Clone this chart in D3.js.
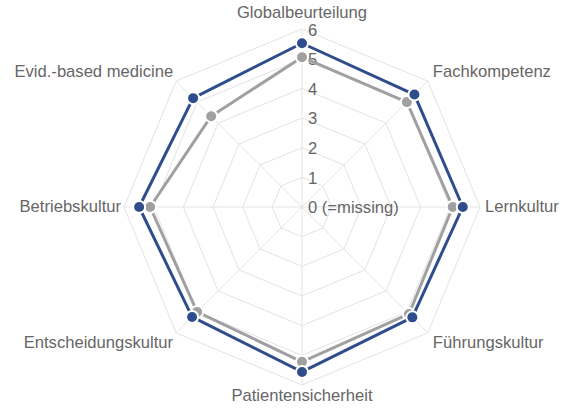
<!DOCTYPE html>
<html><head><meta charset="utf-8">
<script src="https://cdn.jsdelivr.net/npm/d3@7"></script>
<style>body{margin:0;background:#fff}svg{display:block}</style>
</head><body>
<svg id="c" width="562" height="408"></svg>
<script>
const categories = ["Globalbeurteilung","Fachkompetenz","Lernkultur","Führungskultur","Patientensicherheit","Entscheidungskultur","Betriebskultur","Evid.-based medicine"];
const seriesBlue = [5.52, 5.36, 5.42, 5.26, 5.56, 5.24, 5.49, 5.19];
const seriesGray = [5.05, 5.0, 5.08, 5.1, 5.22, 5.0, 5.12, 4.33];
const levels = [0,1,2,3,4,5,6];
const levelLabels = ["0 (=missing)","1","2","3","4","5","6"];

const svg = d3.select("#c");
const cx = 302, cy = 207;
const r = d3.scaleLinear().domain([0,6]).range([0,178]);
const ang = d3.scaleLinear().domain([0, categories.length]).range([0, 2*Math.PI]);
const pt = (i, v) => [cx + r(v)*Math.sin(ang(i)), cy - r(v)*Math.cos(ang(i))];
const g = svg.append("g");
const font = "'Liberation Sans', Arial, sans-serif";
const fs = 16.6;

// grid rings
levels.filter(l => l > 0).forEach(l => {
  g.append("path")
    .attr("d", d3.line()(categories.map((c,i) => pt(i,l))) + "Z")
    .attr("fill","none").attr("stroke","#e3e3e3").attr("stroke-width",1);
});
// spokes
categories.forEach((c,i) => {
  const [x,y] = pt(i,6);
  g.append("line").attr("x1",cx).attr("y1",cy).attr("x2",x).attr("y2",y)
    .attr("stroke","#e3e3e3").attr("stroke-width",1);
});

// level labels
levels.forEach((l,k) => {
  g.append("text").attr("x", cx + 6).attr("y", cy - r(l) + (l === 6 ? 3 : 2))
    .attr("dominant-baseline","middle")
    .attr("font-family",font).attr("font-size",fs).attr("fill","#666")
    .text(levelLabels[k]);
});

// category labels
categories.forEach((c,i) => {
  const a = ang(i);
  const [x,y] = pt(i,6);
  const s = Math.sin(a), co = Math.cos(a);
  let anchor = Math.abs(s) < 0.01 ? "middle" : (s > 0 ? "start" : "end");
  let dx = Math.abs(s) < 0.01 ? 0 : (s > 0 ? 5 : -3);
  let dy = Math.abs(co) < 0.01 ? 1 : (co > 0 ? -9 : 11);
  if (Math.abs(s) < 0.01) dy = co > 0 ? -15 : 12;
  g.append("text").attr("x", x + dx).attr("y", y + dy)
    .attr("text-anchor", anchor).attr("dominant-baseline","middle")
    .attr("font-family",font).attr("font-size",fs).attr("fill","#666")
    .text(c);
});

const series = [
  {vals: seriesGray, color: "#a0a0a0"},
  {vals: seriesBlue, color: "#2f4d8c"}
];
series.forEach(s => {
  const pts = s.vals.map((v,i) => pt(i,v));
  g.append("path").attr("d", d3.line()(pts) + "Z")
    .attr("fill","none").attr("stroke", s.color).attr("stroke-width",3)
    .attr("stroke-linejoin","round");
  g.selectAll(null).data(pts).enter().append("circle")
    .attr("cx", d => d[0]).attr("cy", d => d[1]).attr("r", 6)
    .attr("fill", s.color).attr("stroke","#fff").attr("stroke-width",2);
});
</script>
</body></html>
